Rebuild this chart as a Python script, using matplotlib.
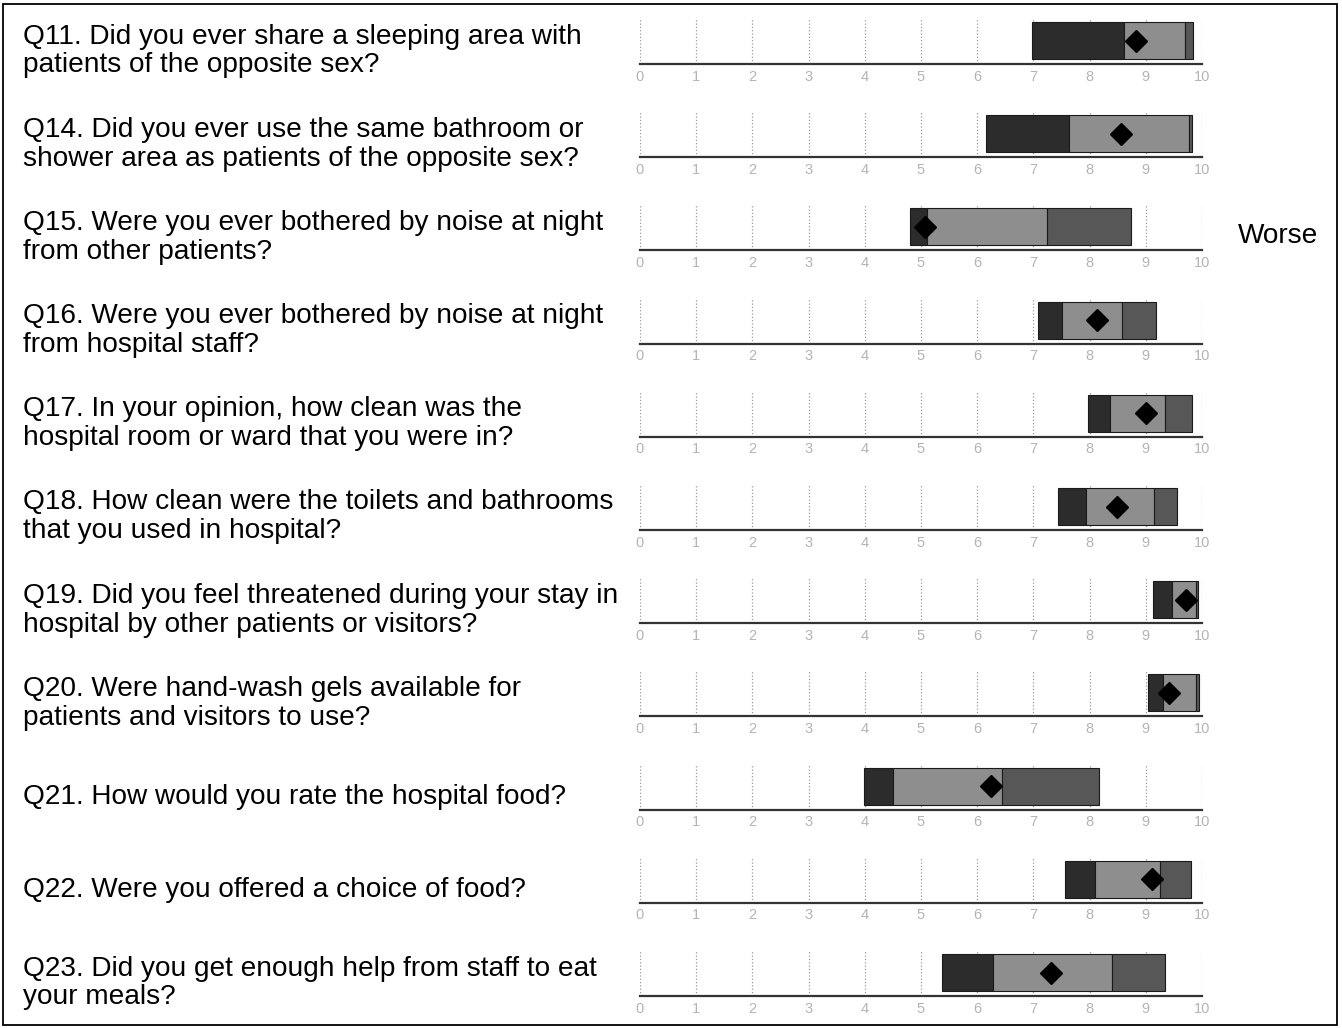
import matplotlib
matplotlib.use("Agg")
import matplotlib.pyplot as plt
from matplotlib.patches import Rectangle

plt.rcParams['font.family'] = ['Liberation Sans', 'DejaVu Sans']

questions = [
    "Q11. Did you ever share a sleeping area with\npatients of the opposite sex?",
    "Q14. Did you ever use the same bathroom or\nshower area as patients of the opposite sex?",
    "Q15. Were you ever bothered by noise at night\nfrom other patients?",
    "Q16. Were you ever bothered by noise at night\nfrom hospital staff?",
    "Q17. In your opinion, how clean was the\nhospital room or ward that you were in?",
    "Q18. How clean were the toilets and bathrooms\nthat you used in hospital?",
    "Q19. Did you feel threatened during your stay in\nhospital by other patients or visitors?",
    "Q20. Were hand-wash gels available for\npatients and visitors to use?",
    "Q21. How would you rate the hospital food?",
    "Q22. Were you offered a choice of food?",
    "Q23. Did you get enough help from staff to eat\nyour meals?",
]

# band edges: low -> dark end -> middle end -> high, plus the trust score
band_low = [6.98, 6.15, 4.80, 7.09, 7.98, 7.43, 9.13, 9.04, 3.99, 7.57, 5.37]
band_dark = [8.62, 7.64, 5.10, 7.50, 8.36, 7.93, 9.46, 9.30, 4.51, 8.10, 6.29]
band_mid = [9.70, 9.76, 7.25, 8.57, 9.35, 9.15, 9.90, 9.90, 6.44, 9.25, 8.40]
band_high = [9.84, 9.82, 8.74, 9.19, 9.82, 9.56, 9.93, 9.95, 8.17, 9.80, 9.35]
score = [8.83, 8.56, 5.07, 8.14, 9.00, 8.48, 9.71, 9.42, 6.24, 9.11, 7.31]

ticks = list(range(0, 11))
worse_row = 2

W, H = 1342, 1028
fig = plt.figure(figsize=(W / 100, H / 100), dpi=100)

# outer frame
fig.patches.append(Rectangle((3 / W, 3 / H), 1334 / W, 1021 / H, transform=fig.transFigure,
                             fill=False, edgecolor='black', linewidth=1.3))

x0, x1 = 640, 1202
first_base = 64
row_step = 93.2
ax_h = 48

for i in range(len(questions)):
    base = first_base + i * row_step
    ax = fig.add_axes([x0 / W, 1 - base / H, (x1 - x0) / W, ax_h / H])
    ax.set_xlim(0, 10)
    ax.set_ylim(0, ax_h)

    for t in ticks:
        ax.plot([t, t], [0, 46], color='#9a9a9a', linestyle=':', linewidth=0.9, zorder=1)

    lefts = [band_low[i], band_dark[i], band_mid[i]]
    rights = [band_dark[i], band_mid[i], band_high[i]]
    colors = ['#2c2c2c', '#8e8e8e', '#575757']
    for l, r, c in zip(lefts, rights, colors):
        ax.barh(23.5, r - l, left=l, height=37, color=c, edgecolor='#1a1a1a',
                linewidth=0.8, zorder=2)
    ax.plot(score[i], 23.5, marker='D', color='black', markersize=11.5, zorder=3)

    for s in ['top', 'right', 'left']:
        ax.spines[s].set_visible(False)
    ax.spines['bottom'].set_color('#333333')
    ax.spines['bottom'].set_linewidth(1.6)
    ax.set_yticks([])
    ax.set_xticks(ticks)
    ax.set_xticklabels([str(t) for t in ticks])
    ax.tick_params(axis='x', length=0, pad=4, labelsize=10.5, labelcolor='#b4b4b4')

    ty = base - 13
    fig.text(23 / W, 1 - ty / H, questions[i], fontsize=20.2, va='center', ha='left',
             linespacing=1.15)

    if i == worse_row:
        fig.text(1238 / W, 1 - (base - 14) / H, "Worse", fontsize=20.2, va='center', ha='left')

fig.savefig("out.png", dpi=100)
